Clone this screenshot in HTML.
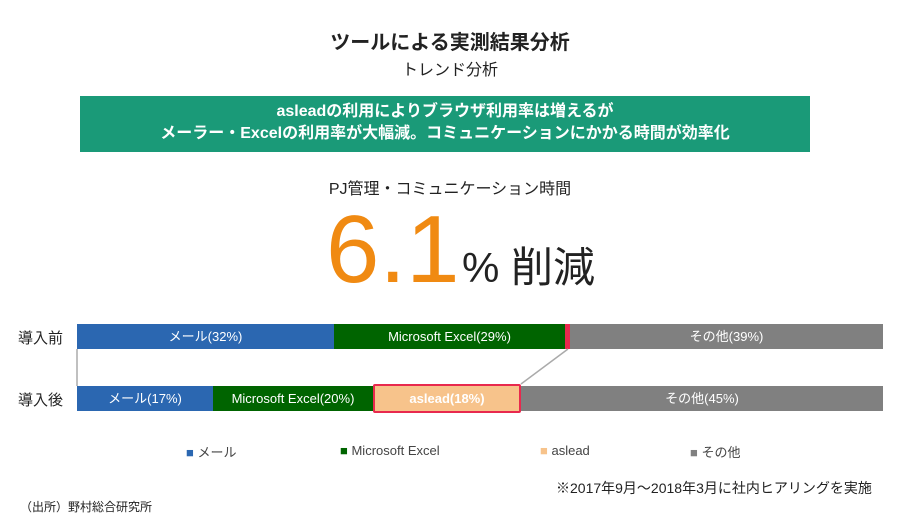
<!DOCTYPE html>
<html><head><meta charset="utf-8"><style>
body{margin:0;width:900px;height:525px;background:#fff;position:relative;overflow:hidden;font-family:"Liberation Sans","Noto Sans CJK JP",sans-serif;color:#222}
.a{position:absolute;white-space:nowrap}
.bar{position:absolute;color:#fff;font-size:13px;text-align:center;box-sizing:border-box}
</style></head><body>
<div class="a" style="left:0;width:900px;text-align:center;top:26px;font-size:20px;font-weight:bold">ツールによる実測結果分析</div>
<div class="a" style="left:0;width:900px;text-align:center;top:56px;font-size:16px">トレンド分析</div>
<div class="a" style="left:80px;width:730px;top:96px;height:56px;background:#1a9a78;color:#fff;font-weight:bold;font-size:16px;text-align:center;line-height:22px;padding-top:5px;box-sizing:border-box">asleadの利用によりブラウザ利用率は増えるが<br>メーラー・Excelの利用率が大幅減。コミュニケーションにかかる時間が効率化</div>
<div class="a" style="left:0;width:900px;text-align:center;top:175px;font-size:16px">PJ管理・コミュニケーション時間</div>
<div class="a" style="left:326px;top:200px;font-size:96px;color:#f08a12;line-height:100px">6.1</div>
<div class="a" style="left:462px;top:244px;font-size:42px;line-height:48px">% 削減</div>
<div class="a" style="left:18px;top:327px;font-size:15px">導入前</div>
<div class="a" style="left:18px;top:389px;font-size:15px">導入後</div>
<div class="bar" style="left:77px;top:324px;width:257px;height:25px;line-height:25px;background:#2b67b1">メール(32%)</div>
<div class="bar" style="left:334px;top:324px;width:231px;height:25px;line-height:25px;background:#006400">Microsoft Excel(29%)</div>
<div class="bar" style="left:565px;top:324px;width:5px;height:25px;background:#e8294e"></div>
<div class="bar" style="left:570px;top:324px;width:313px;height:25px;line-height:25px;background:#808080">その他(39%)</div>
<div class="bar" style="left:77px;top:386px;width:136px;height:25px;line-height:25px;background:#2b67b1">メール(17%)</div>
<div class="bar" style="left:213px;top:386px;width:160px;height:25px;line-height:25px;background:#006400">Microsoft Excel(20%)</div>
<div class="bar" style="left:373px;top:384px;width:148px;height:29px;line-height:25px;background:#f7c38b;border:2px solid #e8294e;border-radius:2px;font-weight:bold">aslead(18%)</div>
<div class="bar" style="left:521px;top:386px;width:362px;height:25px;line-height:25px;background:#808080">その他(45%)</div>
<svg class="a" style="left:0;top:0" width="900" height="525"><line x1="77" y1="349" x2="77" y2="386" stroke="#aaa" stroke-width="1.5"/><line x1="568" y1="349" x2="521" y2="384" stroke="#aaa" stroke-width="1.5"/></svg>
<div class="a" style="left:186px;top:442px;font-size:13px;color:#444"><span style="color:#2b67b1">■</span> メール</div>
<div class="a" style="left:340px;top:443px;font-size:13px;color:#444"><span style="color:#006400">■</span> Microsoft Excel</div>
<div class="a" style="left:540px;top:443px;font-size:13px;color:#444"><span style="color:#f7c38b">■</span> aslead</div>
<div class="a" style="left:690px;top:442px;font-size:13px;color:#444"><span style="color:#808080">■</span> その他</div>
<div class="a" style="left:556px;top:478px;font-size:14px">※2017年9月～2018年3月に社内ヒアリングを実施</div>
<div class="a" style="left:20px;top:498px;font-size:12px">（出所）野村総合研究所</div>
</body></html>
